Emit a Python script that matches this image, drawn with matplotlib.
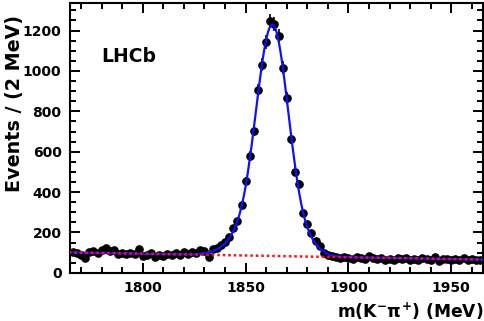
import numpy as np
import matplotlib
matplotlib.use("Agg")
import matplotlib.pyplot as plt
from matplotlib.ticker import MultipleLocator

plt.rcParams['font.family'] = ['DejaVu Sans']
plt.rcParams['font.weight'] = 'bold'
plt.rcParams['mathtext.fontset'] = 'custom'
plt.rcParams['mathtext.rm'] = 'DejaVu Sans:bold'
plt.rcParams['mathtext.it'] = 'DejaVu Sans:bold'
plt.rcParams['mathtext.bf'] = 'DejaVu Sans:bold'

# data points: 2 MeV bins
mass = np.arange(1766, 1965, 2)
events = [104, 98, 90, 76, 104, 110, 96, 112, 121, 108,
          114, 94, 96, 92, 99, 94, 116, 84, 88, 96,
          80, 87, 82, 93, 86, 96, 88, 101, 92, 104,
          97, 112, 108, 80, 118, 124, 140, 154, 176, 222,
          255, 336, 455, 578, 704, 906, 1030, 1142, 1249, 1233,
          1175, 1016, 865, 664, 500, 440, 296, 240, 195, 158,
          132, 98, 86, 84, 80, 72, 78, 76, 70, 80,
          72, 68, 82, 74, 70, 76, 62, 70, 66, 74,
          68, 72, 64, 70, 66, 74, 70, 62, 78, 60,
          70, 68, 64, 70, 66, 72, 64, 68, 66, 62]
errors = np.sqrt(events)

# fit curve (signal + background)
fit_m = [1764, 1790, 1810, 1818, 1820, 1823, 1825, 1827, 1829, 1831,
         1833, 1834, 1835, 1836, 1837, 1838, 1839, 1840, 1841, 1842,
         1843, 1844, 1845, 1846, 1847, 1848, 1849, 1850, 1851, 1852,
         1853, 1854, 1855, 1856, 1857, 1858, 1859, 1860, 1861, 1862,
         1863, 1864, 1865, 1866, 1867, 1868, 1869, 1870, 1871, 1872,
         1873, 1874, 1875, 1876, 1877, 1878, 1879, 1880, 1881, 1882,
         1883, 1884, 1885, 1886, 1887, 1888, 1889, 1890, 1891, 1892,
         1893, 1895, 1897, 1899, 1903, 1908, 1965]
fit_val = [101.0, 96.5, 93.0, 91.6, 91.6, 91.9, 92.3, 93.5, 95.6, 98.8,
           103.9, 107.3, 111.6, 116.4, 122.2, 129.0, 136.9, 146.7, 158.5, 172.4,
           188.2, 207.0, 228.8, 255.7, 288.5, 328.3, 374.1, 428.0, 491.8, 561.6,
           637.4, 717.3, 799.1, 880.9, 960.8, 1035.6, 1101.4, 1155.2, 1196.0, 1222.9,
           1230.7, 1221.5, 1194.4, 1151.2, 1093.0, 1023.9, 945.7, 862.5, 777.3, 692.2,
           611.0, 533.8, 463.6, 399.5, 344.3, 296.1, 258.9, 226.8, 200.6, 178.4,
           160.2, 145.0, 131.9, 120.7, 111.5, 104.4, 98.2, 93.0, 89.4, 86.7,
           84.5, 81.7, 79.8, 78.4, 77.0, 75.8, 65.8]

# background component
bkg_m = [1764, 1965]
bkg_val = [101.0, 65.8]

fig = plt.figure(figsize=(4.85, 3.21), dpi=100)
ax = fig.add_axes([0.144, 0.150, 0.852, 0.841])

ax.errorbar(mass, events, yerr=errors, fmt='o', color='black', ms=5.2,
            elinewidth=1.2, capsize=0, zorder=2)
ax.plot(fit_m, fit_val, color='#1010ff', lw=1.6, zorder=3)
ax.plot(bkg_m, bkg_val, color='#ff1010', lw=1.8, ls=(0, (1, 1.2)), zorder=4)

ax.set_xlim(1764.5, 1965.5)
ax.set_ylim(0, 1337)

ax.xaxis.set_major_locator(MultipleLocator(50))
ax.xaxis.set_minor_locator(MultipleLocator(10))
ax.yaxis.set_major_locator(MultipleLocator(200))
ax.yaxis.set_minor_locator(MultipleLocator(50))
ax.tick_params(which='both', direction='in', top=True, right=True,
               width=1.4, labelsize=10, pad=6)
ax.tick_params(which='major', length=7)
ax.tick_params(which='minor', length=4)
for s in ax.spines.values():
    s.set_linewidth(1.5)

ax.set_xlabel(r'm(K$^{-}\pi^{+}$) (MeV)', fontsize=12.3, fontweight='bold',
              loc='right', labelpad=4)
ax.set_ylabel('Events / (2 MeV)', fontsize=13.8, fontweight='bold',
              labelpad=0)
ax.yaxis.set_label_coords(-0.112, 0.955)
ax.yaxis.label.set_horizontalalignment('right')
ax.text(0.077, 0.80, 'LHCb', transform=ax.transAxes, fontsize=13.5,
        fontweight='bold', va='center', ha='left')

fig.savefig('out.png', dpi=100)
